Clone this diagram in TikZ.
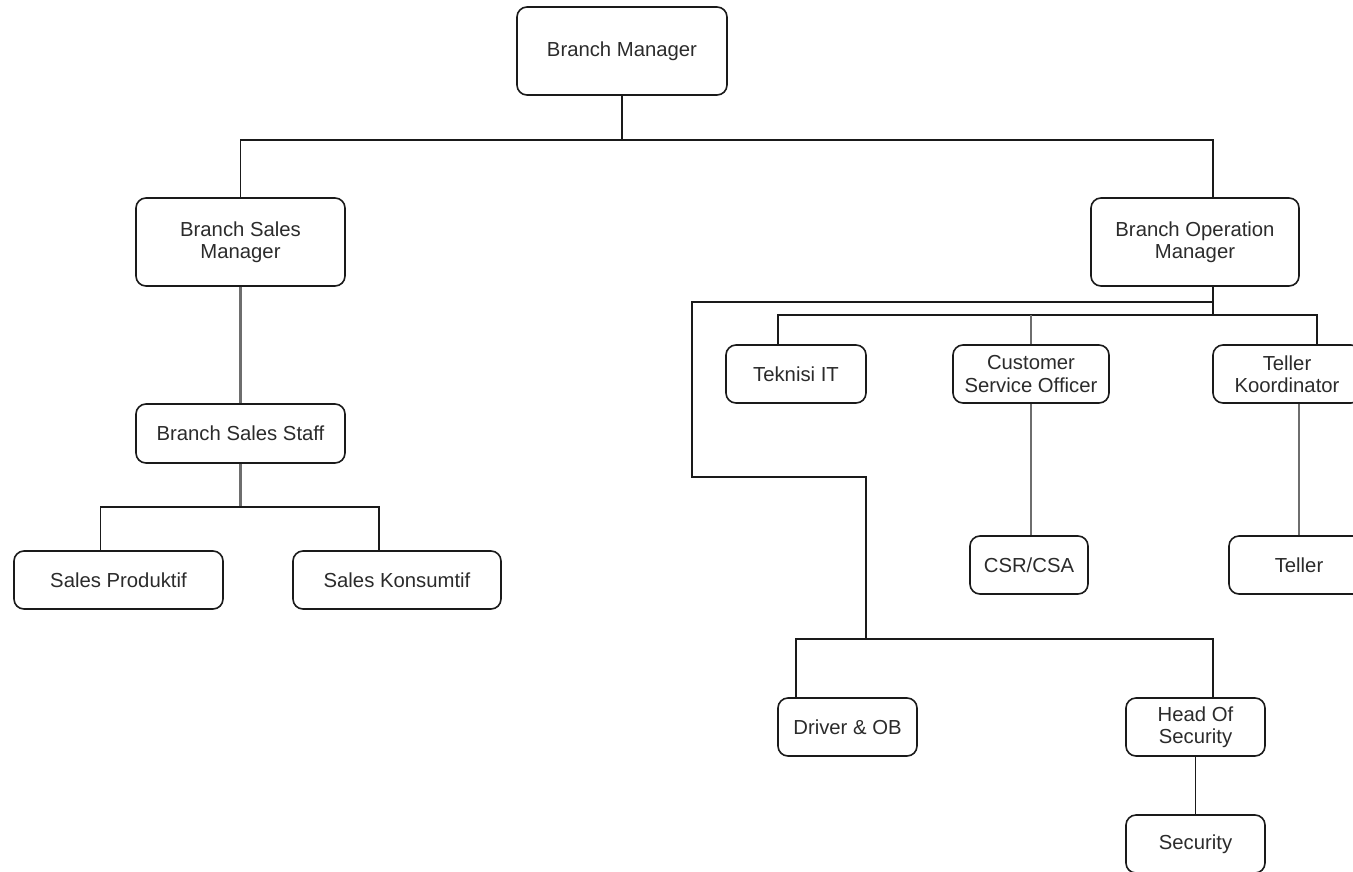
\documentclass[tikz,border=0pt]{standalone}
\usepackage{fontspec}
\setmainfont{Liberation Sans}
\definecolor{inkline}{HTML}{1A1A1A}
\definecolor{softline}{HTML}{6E6E6E}
\definecolor{inktext}{HTML}{2B2B2B}
\begin{document}
\begin{tikzpicture}[x=1pt,y=-1pt,
  box/.style n args={2}{draw=inkline, line width=1.6pt, rounded corners=10pt,
    minimum width=#1, minimum height=#2, inner sep=0pt, align=center,
    text=inktext, font=\fontsize{20.3}{22.5}\selectfont},
  link/.style={draw=inkline, line width=1.6pt},
  greylink/.style={draw=softline, line width=2.3pt}]
\useasboundingbox (0,0) rectangle (1353,871);
\clip (0,0) rectangle (1353,871);

% boxes
\node[box={210pt}{88pt}] (bm)  at (622,51)    {Branch Manager};
\node[box={209pt}{88pt}] (bsm) at (240.5,242) {Branch Sales\\Manager};
\node[box={208pt}{88pt}] (bom) at (1195,242)  {Branch Operation\\Manager};
\node[box={209pt}{59pt}] (bss) at (240.5,433.5) {Branch Sales Staff};
\node[box={209pt}{58pt}] (sp)  at (118.5,580) {Sales Produktif};
\node[box={208pt}{58pt}] (sk)  at (397,580)   {Sales Konsumtif};
\node[box={140pt}{58pt}] (tit) at (796,374)   {Teknisi IT};
\node[box={156pt}{58pt}] (cso) at (1031,374)  {Customer\\Service Officer};
\node[box={148pt}{58pt}] (tk)  at (1287,374)  {Teller\\Koordinator};
\node[box={118pt}{58pt}] (csr) at (1029,565)  {CSR/CSA};
\node[box={140pt}{58pt}] (tel) at (1299,565)  {Teller};
\node[box={139pt}{58pt}] (drv) at (847.5,727) {Driver \& OB};
\node[box={139pt}{58pt}] (hos) at (1195.5,727) {Head Of\\Security};
\node[box={139pt}{58pt}] (sec) at (1195.5,844) {Security};

% helper points for the routed connectors
\coordinate (tap)   at (1213,0);
\coordinate (bendA) at (692,477);
\coordinate (bendB) at (866,477);

% top level
\draw[link] (bm.south) -- ++(0,44) coordinate (j1);
\draw[link] (bsm.north) |- (j1) -| (bom.north -| tap);

% sales branch
\draw[greylink] (bsm.south) -- (bss.north);
\draw[greylink] (bss.south) -- ++(0,43) coordinate (j2);
\draw[link] ([xshift=-18pt]sp.north) |- (j2) -| ([xshift=-18pt]sk.north);

% operation branch
\draw[link] (bom.south -| tap) -- ++(0,28) coordinate (j4);
\path (bom.south -| tap) ++(0,15) coordinate (j3);
\draw[link] ([xshift=-18pt]tit.north) |- (j4) -| ([xshift=30pt]tk.north);
\draw[greylink] (cso.north) -- (cso.north |- j4);
\draw[greylink] (cso.south) -- (cso.south |- csr.north);
\draw[greylink] (tel.north) -- (tel.north |- tk.south);

\draw[link] (j3) -| (bendA) -- (bendB) -- ++(0,162) coordinate (j5);
\draw[link] ([xshift=-51.5pt]drv.north) |- (j5) -| ([xshift=17.5pt]hos.north);
\draw[link] (hos.south) -- (sec.north);
\end{tikzpicture}
\end{document}
